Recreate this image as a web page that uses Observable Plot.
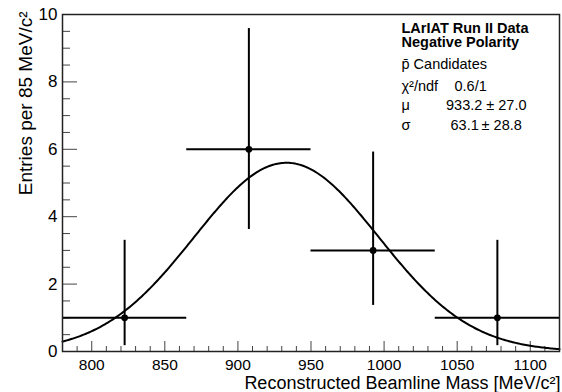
<!DOCTYPE html>
<html><head><meta charset="utf-8">
<script src="https://cdn.jsdelivr.net/npm/d3@7"></script>
<script src="https://cdn.jsdelivr.net/npm/@observablehq/plot@0.6"></script>
<style>
body{margin:0;background:#fff}
</style>
</head><body><div id="chart"></div>
<script>
// Histogram bins (85 MeV/c^2 wide)
const binLow = [780, 865, 950, 1035];
const binHigh = [865, 950, 1035, 1120];
const binCenter = [822.5, 907.5, 992.5, 1077.5];
const counts = [1, 6, 3, 1];
// Poisson (asymmetric) errors
const errLow = [0.827, 2.379, 1.633, 0.827];
const errHigh = [2.299, 3.583, 2.918, 2.299];
// Gaussian fit parameters
const fitAmp = 5.6, fitMu = 933.2, fitSigma = 63.1;
// Axis ticks
const xMajorTicks = [800, 850, 900, 950, 1000, 1050, 1100];
const yMajorTicks = [0, 2, 4, 6, 8, 10];
const xMinorTicks = d3.range(790, 1120, 10).filter(v => !xMajorTicks.includes(v));
const yMinorTicks = d3.range(0.5, 10, 0.5).filter(v => !yMajorTicks.includes(v));
// Texts
const yTitle = "Entries per 85 MeV/c²";
const xTitle = "Reconstructed Beamline Mass [MeV/c²]";
const legendBold = ["LArIAT Run II Data", "Negative Polarity"];
const legendSub = "p\u0304 Candidates";
const statNames = ["χ²/ndf", "μ", "σ"];
const statValues = ["0.6/1", "933.2 ± 27.0", "63.1\u2009± 28.8"];

const W = 562, H = 392;
const mL = 62, mR = 3, mT = 14, mB = 41;
const xDomain = [780, 1120], yDomain = [0, 10];
const pxX = (xDomain[1] - xDomain[0]) / (W - mL - mR);
const pxY = (yDomain[1] - yDomain[0]) / (H - mT - mB);

const bins = binCenter.map((c, i) => ({
  c, n: counts[i], lo: counts[i] - errLow[i], hi: counts[i] + errHigh[i],
  x1: binLow[i], x2: binHigh[i]
}));
const curve = d3.range(xDomain[0], xDomain[1] + 0.5, 1).map(x => ({
  x, y: fitAmp * Math.exp(-0.5 * ((x - fitMu) / fitSigma) ** 2)
}));

const font = "'Liberation Sans', Arial, Helvetica, sans-serif";
const tickColor = "#444";

const lt = (txt, dx, dy, opts = {}) => Plot.text([txt], {frameAnchor: "top-left", dx, dy, lineAnchor: "bottom", textAnchor: "start", fontSize: 14.5, fill: "black", ...opts});

const legendMarks = [
  lt(legendBold[0], 339, 18.8, {fontSize: 14.5, fontWeight: "bold"}),
  lt(legendBold[1], 339, 32.5, {fontSize: 14.5, fontWeight: "bold"}),
  lt(legendSub, 339, 54.3),
  lt(statNames[0], 339, 76),
  lt(statNames[1], 339, 95),
  lt(statNames[2], 339, 115),
  lt(statValues[0], 392, 76),
  lt(statValues[1], 383.5, 95),
  lt(statValues[2], 388, 115)
];

const chart = Plot.plot({
  width: W, height: H,
  marginLeft: mL, marginRight: mR, marginTop: mT, marginBottom: mB,
  style: {fontFamily: font, background: "white", color: "black"},
  x: {domain: xDomain, label: null},
  y: {domain: yDomain, label: null},
  marks: [
    // inward ticks
    Plot.ruleX(xMajorTicks, {x: d => d, y1: 0, y2: 10 * pxY, stroke: tickColor, strokeWidth: 1}),
    Plot.ruleX(xMinorTicks, {x: d => d, y1: 0, y2: 5 * pxY, stroke: tickColor, strokeWidth: 1}),
    Plot.ruleY(yMajorTicks, {y: d => d, x1: xDomain[0], x2: xDomain[0] + 15 * pxX, stroke: tickColor, strokeWidth: 1}),
    Plot.ruleY(yMinorTicks, {y: d => d, x1: xDomain[0], x2: xDomain[0] + 8 * pxX, stroke: tickColor, strokeWidth: 1}),
    // fit
    Plot.line(curve, {x: "x", y: "y", stroke: "black", strokeWidth: 2}),
    // data with error bars
    Plot.ruleX(bins, {x: "c", y1: "lo", y2: "hi", stroke: "black", strokeWidth: 2}),
    Plot.ruleY(bins, {y: "n", x1: "x1", x2: "x2", stroke: "black", strokeWidth: 2}),
    Plot.dot(bins, {x: "c", y: "n", r: 3.4, fill: "black", stroke: "none"}),
    Plot.frame({stroke: "#222", strokeWidth: 1.5}),
    // axes labels
    Plot.axisX({ticks: xMajorTicks, tickSize: 0, tickPadding: 7, fontSize: 15.5, label: null, tickFormat: d => String(d)}),
    Plot.axisY({ticks: yMajorTicks, tickSize: 0, tickPadding: 5, fontSize: 17, label: null, tickFormat: d => String(d)}),
    Plot.text([xTitle], {frameAnchor: "bottom-right", dx: 1, dy: 37.5, lineAnchor: "bottom", textAnchor: "end", fontSize: 18, fill: "black"}),
    Plot.text([yTitle], {frameAnchor: "top-left", dx: -37, dy: -3, rotate: -90, textAnchor: "end", lineAnchor: "middle", fontSize: 19, fill: "black"}),
    ...legendMarks
  ]
});
document.getElementById("chart").appendChild(chart);
</script>
</body></html>
